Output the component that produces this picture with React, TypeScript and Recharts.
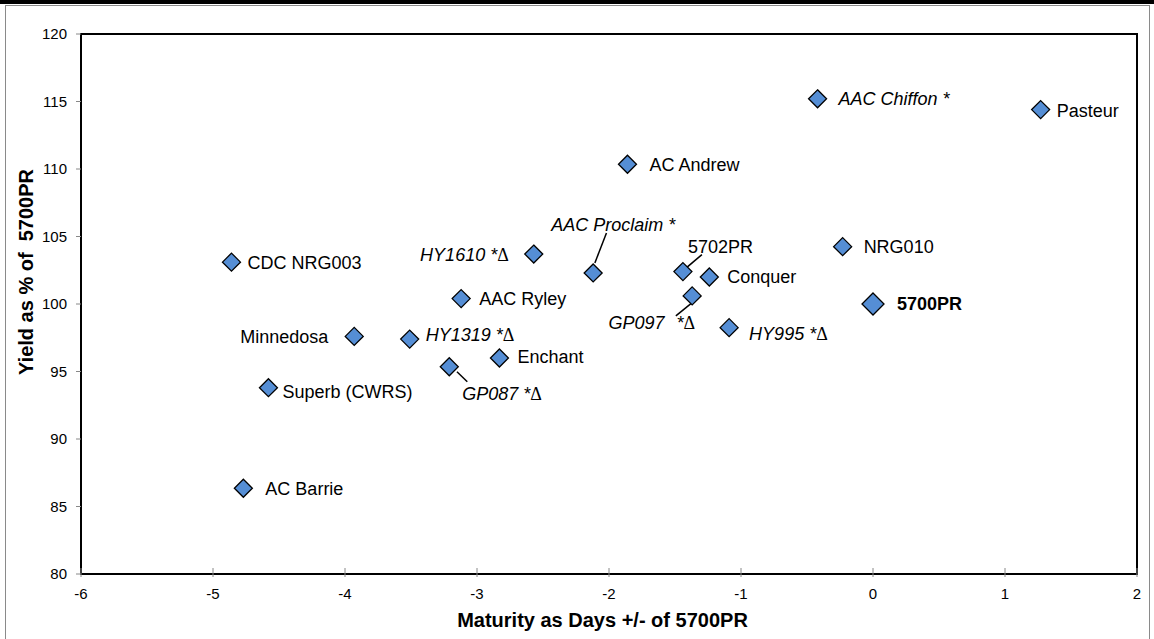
import React from 'react';
import { ScatterChart, Scatter, XAxis, YAxis, ReferenceArea, Label } from 'recharts';

// ---- data ----
const varieties = [
  '5700PR',
  'AAC Chiffon *',
  'Pasteur',
  'AC Andrew',
  'AAC Proclaim *',
  'HY1610 *Δ',
  'CDC NRG003',
  'AAC Ryley',
  '5702PR',
  'Conquer',
  'NRG010',
  'GP097 *Δ',
  'HY995 *Δ',
  'Minnedosa',
  'HY1319 *Δ',
  'Enchant',
  'GP087 *Δ',
  'Superb (CWRS)',
  'AC Barrie',
];
const maturityDays = [0, -0.42, 1.27, -1.86, -2.12, -2.57, -4.86, -3.12, -1.44, -1.24, -0.23, -1.37, -1.09, -3.93, -3.51, -2.83, -3.21, -4.58, -4.77];
const yieldPct = [100, 115.2, 114.4, 110.35, 102.3, 103.7, 103.1, 100.4, 102.4, 102.0, 104.25, 100.6, 98.25, 97.6, 97.4, 96.0, 95.35, 93.8, 86.35];
const xTicks = [-6, -5, -4, -3, -2, -1, 0, 1, 2];
const yTicks = [80, 85, 90, 95, 100, 105, 110, 115, 120];
const xTitle = 'Maturity as Days +/- of 5700PR';
const yTitle = 'Yield as % of  5700PR';
const checkVariety = '5700PR';

const points = varieties.map((name, i) => ({ name, x: maturityDays[i], y: yieldPct[i] }));

// ---- label layout (pixel offsets from marker centre) ----
type Anchor = 'start' | 'middle' | 'end';
type LabelLayout = { anchor: Anchor; dx: number; dy: number; leader?: [number, number, number, number]; gap?: number };
const labelLayout: Record<string, LabelLayout> = {
  '5700PR': { anchor: 'start', dx: 24, dy: 0 },
  'AAC Chiffon *': { anchor: 'start', dx: 21, dy: 0 },
  'Pasteur': { anchor: 'start', dx: 16, dy: 1 },
  'AC Andrew': { anchor: 'start', dx: 22, dy: 0 },
  'AAC Proclaim *': { anchor: 'middle', dx: 20, dy: -48, leader: [1.7, -10, 13.3, -40] },
  'HY1610 *Δ': { anchor: 'end', dx: -25, dy: 0 },
  'CDC NRG003': { anchor: 'start', dx: 16, dy: 0 },
  'AAC Ryley': { anchor: 'start', dx: 18, dy: 0 },
  '5702PR': { anchor: 'start', dx: 5, dy: -25, leader: [3.3, -3.7, 19, -17] },
  'Conquer': { anchor: 'start', dx: 18, dy: 0 },
  'NRG010': { anchor: 'start', dx: 21, dy: 0 },
  'GP097 *Δ': { anchor: 'end', dx: 3, dy: 27, leader: [-0.6, 7.3, -16.3, 20], gap: 12 },
  'HY995 *Δ': { anchor: 'start', dx: 20, dy: 6 },
  'Minnedosa': { anchor: 'end', dx: -26, dy: 0 },
  'HY1319 *Δ': { anchor: 'start', dx: 16, dy: -5 },
  'Enchant': { anchor: 'start', dx: 18, dy: -1 },
  'GP087 *Δ': { anchor: 'start', dx: 13, dy: 27, leader: [7.7, 5, 18, 15] },
  'Superb (CWRS)': { anchor: 'start', dx: 14, dy: 4 },
  'AC Barrie': { anchor: 'start', dx: 22, dy: 0 },
};

const FONT = '"Liberation Sans", Arial, Helvetica, sans-serif';
const LABEL_SIZE = 18;
const MARKER_FILL = '#558ED5';

function PointLabel({ name, x, y, layout }: { name: string; x: number; y: number; layout: LabelLayout }) {
  const italic = name.includes('*');
  const bold = name === checkVariety;
  const hasDelta = name.endsWith('Δ');
  const base = hasDelta ? name.slice(0, -1) : name;
  let main = base;
  let star: string | null = null;
  if (layout.gap) {
    const idx = base.lastIndexOf(' *');
    main = base.slice(0, idx);
    star = '*';
  }
  const baseline = y + layout.dy + LABEL_SIZE * 0.36;
  return (
    <text
      x={x + layout.dx}
      y={baseline}
      textAnchor={layout.anchor}
      fontFamily={FONT}
      fontSize={LABEL_SIZE}
      fontStyle={italic ? 'italic' : 'normal'}
      fontWeight={bold ? 'bold' : 'normal'}
      fill="#000"
    >
      <tspan>{main}</tspan>
      {star ? <tspan dx={layout.gap}>{star}</tspan> : null}
      {hasDelta ? (
        <tspan fontStyle="normal" fontFamily='"Liberation Serif", "Times New Roman", serif'>Δ</tspan>
      ) : null}
    </text>
  );
}

function DiamondPoint(props: any) {
  const { cx, cy, payload } = props;
  if (cx == null || cy == null) return null;
  const name: string = payload.name;
  const r = name === checkVariety ? 11 : 9;
  const layout = labelLayout[name];
  const pts = `${cx},${cy - r} ${cx + r},${cy} ${cx},${cy + r} ${cx - r},${cy}`;
  return (
    <g>
      {layout && layout.leader ? (
        <line
          x1={cx + layout.leader[0]}
          y1={cy + layout.leader[1]}
          x2={cx + layout.leader[2]}
          y2={cy + layout.leader[3]}
          stroke="#000"
          strokeWidth={1.5}
        />
      ) : null}
      <polygon points={pts} fill={MARKER_FILL} stroke="#000" strokeWidth={1.3} strokeLinejoin="miter" />
      {layout ? <PointLabel name={name} x={cx} y={cy} layout={layout} /> : null}
    </g>
  );
}

const TICK_SIZE = 5;
const TICK_MARGIN = 9;

function XTick(props: any) {
  const { x, y, payload } = props;
  const axisY = y - TICK_SIZE - TICK_MARGIN;
  return (
    <g>
      <line x1={x} y1={axisY - 6} x2={x} y2={axisY + 3} stroke="#888" strokeWidth={1} />
      <text x={x} y={y + 15 * 0.71} textAnchor="middle" fontFamily={FONT} fontSize={15} fill="#000">
        {payload.value}
      </text>
    </g>
  );
}

function XTitle(props: any) {
  const vb = props.viewBox || {};
  return (
    <text
      x={vb.x + vb.width / 2 - 6.5}
      y={vb.y + 53}
      textAnchor="middle"
      fontFamily={FONT}
      fontSize={20}
      fontWeight="bold"
      fill="#000"
    >
      {xTitle}
    </text>
  );
}

function YTitle(props: any) {
  const vb = props.viewBox || {};
  const cx = vb.x + 33;
  const cy = vb.y + vb.height / 2 - 32;
  return (
    <text
      x={cx}
      y={cy}
      transform={`rotate(-90, ${cx}, ${cy})`}
      textAnchor="middle"
      fontFamily={FONT}
      fontSize={20}
      fontWeight="bold"
      fill="#000"
      style={{ whiteSpace: 'pre' }}
    >
      {yTitle}
    </text>
  );
}

export default function App() {
  return (
    <div style={{ position: 'absolute', left: 0, top: 0, width: 1154, height: 639, background: '#fff', overflow: 'hidden' }}>
      <div style={{ position: 'absolute', left: 0, top: 0, width: 1154, height: 4, background: '#000' }} />
      <div
        style={{
          position: 'absolute',
          left: 5,
          top: 5,
          width: 1145,
          height: 650,
          border: '1px solid #8a8a8a',
          boxSizing: 'border-box',
        }}
      />
      <div style={{ position: 'absolute', left: 0, top: 0 }}>
        <ScatterChart width={1154} height={639} margin={{ top: 34, right: 17, bottom: 0, left: 0 }}>
          <XAxis
            type="number"
            dataKey="x"
            domain={[-6, 2]}
            ticks={xTicks}
            allowDataOverflow
            height={65}
            axisLine={{ stroke: '#000', strokeWidth: 2 }}
            tickLine={false}
            tickSize={TICK_SIZE}
            tickMargin={TICK_MARGIN}
            tick={<XTick />}
            interval={0}
          >
            <Label content={<XTitle />} />
          </XAxis>
          <YAxis
            type="number"
            dataKey="y"
            domain={[80, 120]}
            ticks={yTicks}
            allowDataOverflow
            width={81}
            axisLine={{ stroke: '#000', strokeWidth: 2 }}
            tickLine={{ stroke: '#888', strokeWidth: 1 }}
            tickSize={TICK_SIZE}
            tickMargin={TICK_MARGIN}
            tick={{ fill: '#000', fontFamily: FONT, fontSize: 15 }}
            interval={0}
          >
            <Label content={<YTitle />} />
          </YAxis>
          <ReferenceArea x1={-6} x2={2} y1={80} y2={120} fill="none" stroke="#000" strokeWidth={2} ifOverflow="visible" />
          <Scatter data={points} shape={<DiamondPoint />} isAnimationActive={false} />
        </ScatterChart>
      </div>
    </div>
  );
}
